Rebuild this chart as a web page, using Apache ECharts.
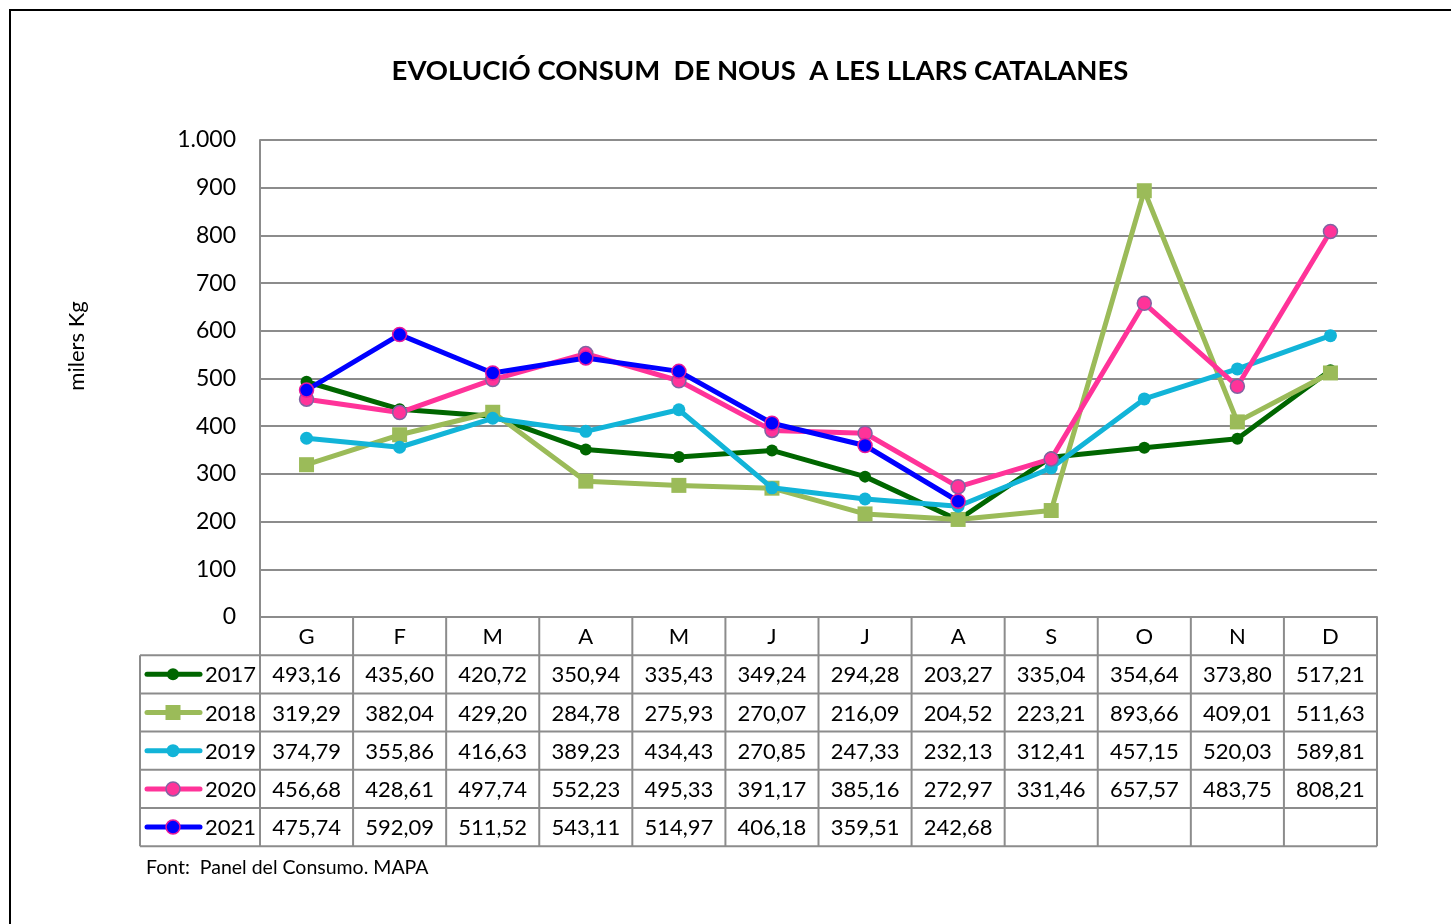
<!DOCTYPE html>
<html>
<head>
<meta charset="utf-8">
<title>Evolució consum de nous</title>
<script src="https://cdn.jsdelivr.net/npm/echarts@6/dist/echarts.min.js"></script>
<style>
  html, body { margin: 0; padding: 0; background: #fff; }
  #chart { width: 1451px; height: 924px; }
</style>
</head>
<body>
<div id="chart"></div>
<script>
// Months (Catalan initials)
const months = ['G', 'F', 'M', 'A', 'M', 'J', 'J', 'A', 'S', 'O', 'N', 'D'];

// Household consumption of nuts, thousands of kg
const years = ['2017', '2018', '2019', '2020', '2021'];
const v2017 = [493.16, 435.60, 420.72, 350.94, 335.43, 349.24, 294.28, 203.27, 335.04, 354.64, 373.80, 517.21];
const v2018 = [319.29, 382.04, 429.20, 284.78, 275.93, 270.07, 216.09, 204.52, 223.21, 893.66, 409.01, 511.63];
const v2019 = [374.79, 355.86, 416.63, 389.23, 434.43, 270.85, 247.33, 232.13, 312.41, 457.15, 520.03, 589.81];
const v2020 = [456.68, 428.61, 497.74, 552.23, 495.33, 391.17, 385.16, 272.97, 331.46, 657.57, 483.75, 808.21];
const v2021 = [475.74, 592.09, 511.52, 543.11, 514.97, 406.18, 359.51, 242.68, null, null, null, null];

const yTicks = { min: 0, max: 1000, interval: 100 };

const FONT = 'Lato, "Open Sans", sans-serif';
const GRID = { left: 260, top: 140, right: 74, bottom: 307 };
const ROW_H = 38.2;
const KEY_LEFT = 140;
const BORDER = '#8c8c8c';

const styles = [
  { line: '#006600', fill: '#006600', border: '#006600', borderW: 0, symbol: 'circle', size: 12 },
  { line: '#9BBB59', fill: '#9BBB59', border: '#9BBB59', borderW: 0, symbol: 'rect', size: 15 },
  { line: '#12B4D8', fill: '#12B4D8', border: '#12B4D8', borderW: 0, symbol: 'circle', size: 13 },
  { line: '#FF3399', fill: '#FF3399', border: '#8064A2', borderW: 1.5, symbol: 'circle', size: 14 },
  { line: '#0000FF', fill: '#0000FF', border: '#E6199A', borderW: 1.5, symbol: 'circle', size: 14 }
];
const allValues = [v2017, v2018, v2019, v2020, v2021];

const fmt = v => (v == null ? '' : v.toFixed(2).replace('.', ','));
const fmtTick = v => (v >= 1000 ? Math.floor(v / 1000) + '.' + String(v % 1000).padStart(3, '0') : String(v));

const chart = echarts.init(document.getElementById('chart'), null, { renderer: 'canvas' });

const series = years.map((y, i) => ({
  name: y,
  type: 'line',
  data: allValues[i],
  symbol: styles[i].symbol,
  symbolSize: styles[i].size,
  showAllSymbol: true,
  connectNulls: false,
  z: 2 + i,
  lineStyle: { color: styles[i].line, width: 5 },
  itemStyle: { color: styles[i].fill, borderColor: styles[i].border, borderWidth: styles[i].borderW },
  emphasis: { disabled: true },
  animation: false
}));

chart.setOption({
  animation: false,
  backgroundColor: '#fff',
  title: {
    text: 'EVOLUCIÓ CONSUM  DE NOUS  A LES LLARS CATALANES',
    left: 755, top: 52, textAlign: 'center',
    textStyle: { fontFamily: FONT, fontWeight: 'bold', fontSize: 27.5, color: '#000' }
  },
  grid: GRID,
  xAxis: {
    type: 'category',
    data: months,
    boundaryGap: true,
    axisLine: { show: true, lineStyle: { color: BORDER, width: 2 } },
    axisTick: { show: false },
    axisLabel: { show: false },
    splitLine: { show: false }
  },
  yAxis: {
    type: 'value',
    min: yTicks.min, max: yTicks.max, interval: yTicks.interval,
    axisLine: { show: true, lineStyle: { color: BORDER, width: 2 } },
    axisTick: { show: false },
    axisLabel: { fontFamily: FONT, fontSize: 23, color: '#000', margin: 24, formatter: fmtTick },
    splitLine: { show: true, lineStyle: { color: BORDER, width: 2 } }
  },
  series: series,
  graphic: []
});

// Data table under the plot, with series keys in the first column
function drawTable() {
  const x0 = chart.convertToPixel({ xAxisIndex: 0 }, 0);
  const x1 = chart.convertToPixel({ xAxisIndex: 0 }, 1);
  const band = x1 - x0;
  const plotLeft = x0 - band / 2;
  const plotRight = plotLeft + band * months.length;
  const tableTop = chart.convertToPixel({ yAxisIndex: 0 }, 0);
  const els = [];
  const line = (xa, ya, xb, yb) => els.push({
    type: 'line', silent: true, z: 10,
    shape: { x1: xa, y1: ya, x2: xb, y2: yb },
    style: { stroke: BORDER, lineWidth: 2 }
  });
  const text = (t, x, y, align) => els.push({
    type: 'text', silent: true, z: 11, x: x, y: y,
    style: { text: t, fill: '#000', font: '22px ' + FONT, align: align || 'center', verticalAlign: 'middle' }
  });

  const nRows = years.length;
  const bottom = tableTop + ROW_H * (nRows + 1);
  // horizontal rules
  line(plotLeft, tableTop + ROW_H, plotRight, tableTop + ROW_H);
  for (let r = 1; r <= nRows; r++) {
    line(KEY_LEFT, tableTop + ROW_H * r, plotLeft, tableTop + ROW_H * r);
    line(plotLeft, tableTop + ROW_H * (r + 1), plotRight, tableTop + ROW_H * (r + 1));
  }
  line(KEY_LEFT, bottom, plotLeft, bottom);
  // vertical rules
  line(KEY_LEFT, tableTop + ROW_H, KEY_LEFT, bottom);
  for (let c = 0; c <= months.length; c++) {
    line(plotLeft + band * c, tableTop, plotLeft + band * c, bottom);
  }
  // header
  months.forEach((m, c) => text(m, plotLeft + band * (c + 0.5), tableTop + ROW_H / 2 + 1));
  // rows
  years.forEach((y, r) => {
    const cy = tableTop + ROW_H * (r + 1.5) + 1;
    const st = styles[r];
    els.push({
      type: 'line', silent: true, z: 11,
      shape: { x1: KEY_LEFT + 7, y1: cy - 1, x2: KEY_LEFT + 60, y2: cy - 1 },
      style: { stroke: st.line, lineWidth: 5, lineCap: 'round' }
    });
    const sz = st.size;
    if (st.symbol === 'rect') {
      els.push({
        type: 'rect', silent: true, z: 12,
        shape: { x: KEY_LEFT + 33 - sz / 2, y: cy - 1 - sz / 2, width: sz, height: sz },
        style: { fill: st.fill }
      });
    } else {
      els.push({
        type: 'circle', silent: true, z: 12,
        shape: { cx: KEY_LEFT + 33, cy: cy - 1, r: sz / 2 },
        style: { fill: st.fill, stroke: st.borderW ? st.border : null, lineWidth: st.borderW }
      });
    }
    text(y, KEY_LEFT + 65, cy, 'left');
    allValues[r].forEach((v, c) => text(fmt(v), plotLeft + band * (c + 0.5), cy));
  });
  // axis title
  els.push({
    type: 'text', silent: true, z: 11, x: 77, y: 346, rotation: Math.PI / 2,
    style: { text: 'milers Kg', fill: '#000', font: '22px ' + FONT, align: 'center', verticalAlign: 'middle' }
  });
  // source note
  els.push({
    type: 'text', silent: true, z: 11, x: 146, y: bottom + 22,
    style: { text: 'Font:  Panel del Consumo. MAPA', fill: '#000', font: '19.5px ' + FONT, verticalAlign: 'middle' }
  });
  // outer frame
  els.push({
    type: 'polyline', silent: true, z: 20,
    shape: { points: [[10, 924], [10, 10], [1451, 10]] },
    style: { stroke: '#000', lineWidth: 2, fill: null }
  });
  chart.setOption({ graphic: els });
}
drawTable();
</script>
</body>
</html>
